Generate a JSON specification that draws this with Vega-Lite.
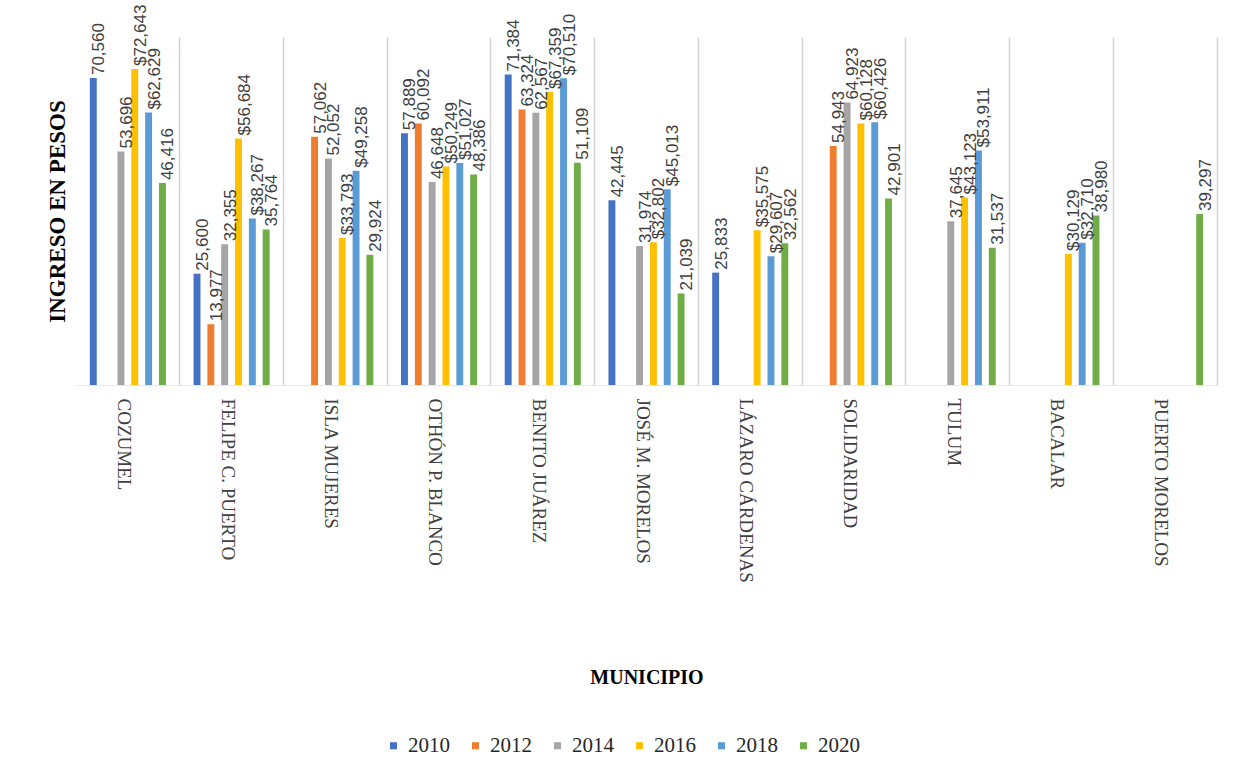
{
  "$schema": "https://vega.github.io/schema/vega-lite/v6.json",
  "autosize": {"type": "none"},
  "padding": {"left": 76, "top": 37, "right": 29, "bottom": 391},
  "width": 1141,
  "height": 348,
  "background": "white",
  "config": {"view": {"stroke": null}},
  "data": {"values": [
    {"municipio": "COZUMEL", "year": "2010", "ingreso": 70560, "label": "70,560"},
    {"municipio": "COZUMEL", "year": "2014", "ingreso": 53696, "label": "53,696"},
    {"municipio": "COZUMEL", "year": "2016", "ingreso": 72643, "label": "$72,643"},
    {"municipio": "COZUMEL", "year": "2018", "ingreso": 62629, "label": "$62,629"},
    {"municipio": "COZUMEL", "year": "2020", "ingreso": 46416, "label": "46,416"},
    {"municipio": "FELIPE C. PUERTO", "year": "2010", "ingreso": 25600, "label": "25,600"},
    {"municipio": "FELIPE C. PUERTO", "year": "2012", "ingreso": 13977, "label": "13,977"},
    {"municipio": "FELIPE C. PUERTO", "year": "2014", "ingreso": 32355, "label": "32,355"},
    {"municipio": "FELIPE C. PUERTO", "year": "2016", "ingreso": 56684, "label": "$56,684"},
    {"municipio": "FELIPE C. PUERTO", "year": "2018", "ingreso": 38267, "label": "$38,267"},
    {"municipio": "FELIPE C. PUERTO", "year": "2020", "ingreso": 35764, "label": "35,764"},
    {"municipio": "ISLA MUJERES", "year": "2012", "ingreso": 57062, "label": "57,062"},
    {"municipio": "ISLA MUJERES", "year": "2014", "ingreso": 52052, "label": "52,052"},
    {"municipio": "ISLA MUJERES", "year": "2016", "ingreso": 33793, "label": "$33,793"},
    {"municipio": "ISLA MUJERES", "year": "2018", "ingreso": 49258, "label": "$49,258"},
    {"municipio": "ISLA MUJERES", "year": "2020", "ingreso": 29924, "label": "29,924"},
    {"municipio": "OTHÓN P. BLANCO", "year": "2010", "ingreso": 57889, "label": "57,889"},
    {"municipio": "OTHÓN P. BLANCO", "year": "2012", "ingreso": 60092, "label": "60,092"},
    {"municipio": "OTHÓN P. BLANCO", "year": "2014", "ingreso": 46648, "label": "46,648"},
    {"municipio": "OTHÓN P. BLANCO", "year": "2016", "ingreso": 50249, "label": "$50,249"},
    {"municipio": "OTHÓN P. BLANCO", "year": "2018", "ingreso": 51027, "label": "$51,027"},
    {"municipio": "OTHÓN P. BLANCO", "year": "2020", "ingreso": 48386, "label": "48,386"},
    {"municipio": "BENITO JUÁREZ", "year": "2010", "ingreso": 71384, "label": "71,384"},
    {"municipio": "BENITO JUÁREZ", "year": "2012", "ingreso": 63324, "label": "63,324"},
    {"municipio": "BENITO JUÁREZ", "year": "2014", "ingreso": 62567, "label": "62,567"},
    {"municipio": "BENITO JUÁREZ", "year": "2016", "ingreso": 67359, "label": "$67,359"},
    {"municipio": "BENITO JUÁREZ", "year": "2018", "ingreso": 70510, "label": "$70,510"},
    {"municipio": "BENITO JUÁREZ", "year": "2020", "ingreso": 51109, "label": "51,109"},
    {"municipio": "JOSÉ M. MORELOS", "year": "2010", "ingreso": 42445, "label": "42,445"},
    {"municipio": "JOSÉ M. MORELOS", "year": "2014", "ingreso": 31974, "label": "31,974"},
    {"municipio": "JOSÉ M. MORELOS", "year": "2016", "ingreso": 32802, "label": "$32,802"},
    {"municipio": "JOSÉ M. MORELOS", "year": "2018", "ingreso": 45013, "label": "$45,013"},
    {"municipio": "JOSÉ M. MORELOS", "year": "2020", "ingreso": 21039, "label": "21,039"},
    {"municipio": "LÁZARO CÁRDENAS", "year": "2010", "ingreso": 25833, "label": "25,833"},
    {"municipio": "LÁZARO CÁRDENAS", "year": "2016", "ingreso": 35575, "label": "$35,575"},
    {"municipio": "LÁZARO CÁRDENAS", "year": "2018", "ingreso": 29607, "label": "$29,607"},
    {"municipio": "LÁZARO CÁRDENAS", "year": "2020", "ingreso": 32562, "label": "32,562"},
    {"municipio": "SOLIDARIDAD", "year": "2012", "ingreso": 54943, "label": "54,943"},
    {"municipio": "SOLIDARIDAD", "year": "2014", "ingreso": 64923, "label": "64,923"},
    {"municipio": "SOLIDARIDAD", "year": "2016", "ingreso": 60128, "label": "$60,128"},
    {"municipio": "SOLIDARIDAD", "year": "2018", "ingreso": 60426, "label": "$60,426"},
    {"municipio": "SOLIDARIDAD", "year": "2020", "ingreso": 42901, "label": "42,901"},
    {"municipio": "TULUM", "year": "2014", "ingreso": 37645, "label": "37,645"},
    {"municipio": "TULUM", "year": "2016", "ingreso": 43123, "label": "$43,123"},
    {"municipio": "TULUM", "year": "2018", "ingreso": 53911, "label": "$53,911"},
    {"municipio": "TULUM", "year": "2020", "ingreso": 31537, "label": "31,537"},
    {"municipio": "BACALAR", "year": "2016", "ingreso": 30129, "label": "$30,129"},
    {"municipio": "BACALAR", "year": "2018", "ingreso": 32710, "label": "$32,710"},
    {"municipio": "BACALAR", "year": "2020", "ingreso": 38980, "label": "38,980"},
    {"municipio": "PUERTO MORELOS", "year": "2020", "ingreso": 39297, "label": "39,297"}
  ]},
  "encoding": {
    "x": {
      "field": "municipio", "type": "nominal", "sort": null,
      "scale": {"paddingInner": 0, "paddingOuter": 0},
      "axis": {
        "title": "MUNICIPIO",
        "titleFont": "Liberation Serif", "titleFontSize": 20, "titleFontWeight": "bold", "titleColor": "#000000",
        "titleY": 292, "titleBaseline": "middle",
        "labelAngle": 90, "labelFont": "Liberation Serif", "labelFontSize": 19, "labelColor": "#404040",
        "labelPadding": 13, "labelOffset": -4, "labelLimit": 400,
        "ticks": false, "domain": true, "domainColor": "#e8e8e8",
        "grid": true, "gridColor": "#d4d4d4", "gridWidth": 1.5, "bandPosition": 1
      }
    },
    "xOffset": {"field": "year", "type": "nominal", "scale": {"domain": ["2010", "2012", "2014", "2016", "2018", "2020"], "paddingInner": 0.5, "paddingOuter": 1.2}},
    "y": {
      "field": "ingreso", "type": "quantitative",
      "scale": {"domain": [0, 80000]},
      "axis": {
        "title": "INGRESO EN PESOS", "titleFont": "Liberation Serif", "titleFontSize": 23, "titleFontWeight": "bold", "titleColor": "#000000",
        "titlePadding": 7, "labels": false, "ticks": false, "domain": false, "grid": false
      }
    }
  },
  "layer": [
    {
      "mark": {"type": "bar"},
      "encoding": {
        "color": {
          "field": "year", "type": "nominal",
          "scale": {"domain": ["2010", "2012", "2014", "2016", "2018", "2020"], "range": ["#4472C4", "#ED7D31", "#A5A5A5", "#FFC000", "#5B9BD5", "#70AD47"]},
          "legend": {
            "title": null, "orient": "none", "direction": "horizontal", "legendX": 307, "legendY": 698,
            "symbolType": "square", "symbolSize": 50, "symbolStrokeWidth": 0,
            "labelFont": "Liberation Serif", "labelFontSize": 21, "labelColor": "#262626",
            "labelOffset": 4, "columnPadding": 15
          }
        }
      }
    },
    {
      "mark": {"type": "text", "angle": -90, "align": "left", "baseline": "middle", "dx": 3, "dy": 6, "font": "Liberation Sans", "fontSize": 17, "color": "#404040"},
      "encoding": {"text": {"field": "label", "type": "nominal"}}
    }
  ]
}
